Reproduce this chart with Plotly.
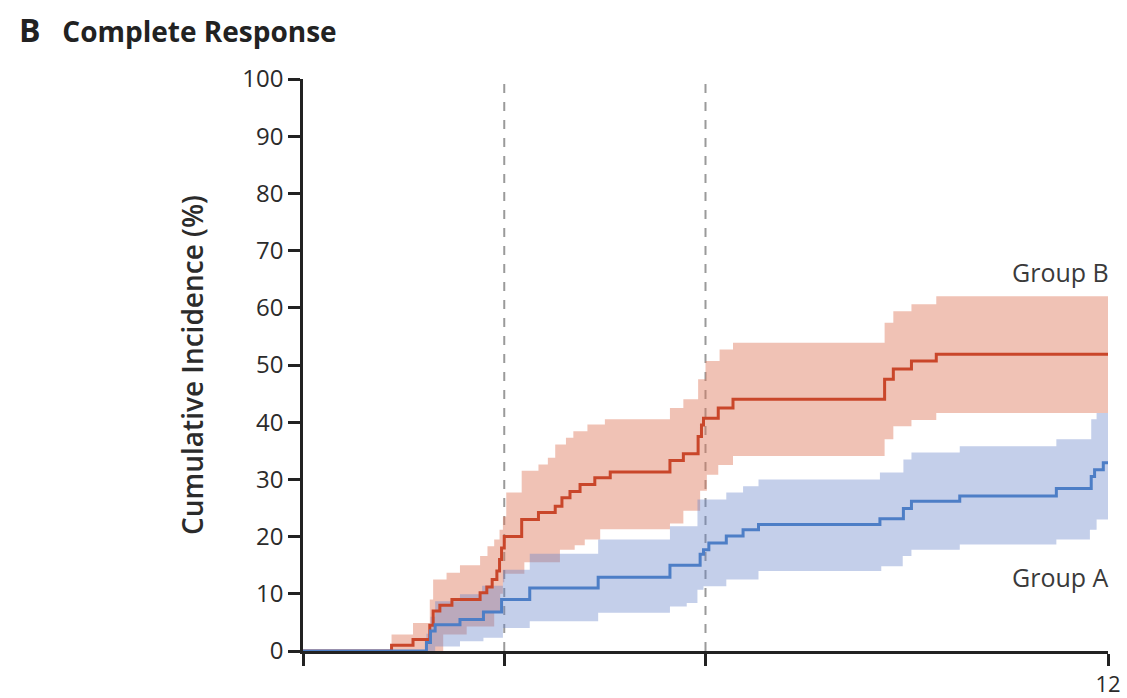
import plotly.graph_objects as go

# ---------------- data (months, cumulative incidence %) ----------------
b_t = [0, 1.32, 1.64, 1.89, 1.94, 2.04, 2.22, 2.64, 2.74, 2.82, 2.89, 2.93, 2.96, 3.00,
       3.26, 3.51, 3.76, 3.86, 3.98, 4.13, 4.35, 4.58, 5.47, 5.67, 5.89, 5.94, 5.97,
       6.19, 6.41, 8.67, 8.80, 9.07, 9.44, 12.0]
b_v = [0, 1.0, 2.0, 4.5, 7.0, 8.0, 9.0, 10.2, 11.2, 12.5, 14.0, 16.0, 18.0, 20.0,
       23.0, 24.2, 25.3, 26.8, 27.9, 29.1, 30.3, 31.3, 33.3, 34.5, 37.5, 39.5, 40.7,
       42.5, 44.0, 47.5, 49.3, 50.7, 51.9, 51.9]

b_up_t = [0, 1.32, 1.64, 1.89, 1.94, 2.14, 2.34, 2.64, 2.75, 2.85, 2.93, 2.98, 3.03,
          3.26, 3.51, 3.65, 3.76, 3.92, 4.03, 4.24, 4.50, 5.47, 5.67, 5.89, 6.00, 6.21,
          6.41, 8.67, 8.80, 9.07, 9.44, 12.0]
b_up_v = [0, 2.9, 4.9, 9.0, 12.5, 13.7, 15.0, 16.6, 18.3, 19.5, 21.2, 23.5, 27.7,
          31.5, 32.6, 33.8, 36.1, 37.3, 38.4, 39.6, 40.5, 42.5, 44.0, 47.5, 50.7, 52.7,
          53.9, 57.4, 59.4, 60.6, 62.0, 62.0]

b_lo_t = [0, 2.09, 2.44, 2.85, 2.94, 2.98, 3.00, 3.30, 3.83, 4.05, 4.20, 4.43, 5.47,
          5.67, 5.92, 6.02, 6.19, 6.41, 8.67, 8.80, 9.07, 9.44, 12.0]
b_lo_v = [0, 2.9, 4.3, 7.0, 10.0, 12.0, 13.5, 15.5, 17.7, 18.5, 19.5, 21.3, 22.3,
          24.5, 28.0, 30.8, 32.5, 34.1, 37.0, 39.3, 40.4, 41.6, 41.6]

a_t = [0, 1.84, 1.90, 1.97, 2.34, 2.69, 2.96, 3.38, 4.40, 5.47, 5.92, 5.97, 6.05,
       6.31, 6.56, 6.79, 8.60, 8.95, 9.07, 9.79, 11.23, 11.75, 11.80, 11.93, 12.0]
a_v = [0, 1.5, 3.5, 4.6, 5.5, 6.8, 9.0, 11.0, 12.9, 15.0, 16.9, 17.7, 18.9,
       20.1, 21.2, 22.1, 23.1, 24.9, 26.2, 27.1, 28.4, 30.5, 31.7, 32.9, 32.9]

a_up_t = [0, 1.84, 1.90, 1.97, 2.34, 2.67, 2.98, 3.38, 4.40, 5.47, 5.88, 6.31, 6.56,
          6.79, 8.60, 8.95, 9.07, 9.79, 11.23, 11.75, 11.83, 12.0]
a_up_v = [0, 3.0, 6.0, 8.7, 9.9, 11.4, 14.2, 17.0, 19.5, 21.8, 26.5, 27.7, 28.8,
          30.0, 31.2, 33.5, 34.7, 35.8, 37.0, 40.5, 41.6, 41.6]

a_lo_t = [0, 1.97, 2.34, 2.69, 2.98, 3.38, 4.40, 5.47, 5.72, 5.88, 5.97, 6.31, 6.79,
          8.62, 8.94, 9.07, 9.79, 11.23, 11.73, 11.83, 12.0]
a_lo_v = [0, 0.8, 1.7, 2.3, 4.0, 5.2, 6.7, 7.8, 8.4, 10.7, 11.3, 12.5, 14.0,
          14.8, 16.6, 17.7, 18.6, 19.5, 21.2, 23.0, 23.0]

y_ticks = [0, 10, 20, 30, 40, 50, 60, 70, 80, 90, 100]
x_ticks = [0, 3, 6, 12]
x_ticktext = ["", "", "", "12"]
landmarks = [3, 6]

RED = "#c9462a"
BLUE = "#4d7ec6"
RED_FILL = "rgba(222,120,90,0.45)"
BLUE_FILL = "rgba(100,130,200,0.38)"
FONT = "Open Sans, Lato, sans-serif"
TXT = "#2b2b2b"

fig = go.Figure()

# confidence bands
fig.add_trace(go.Scatter(x=b_lo_t, y=b_lo_v, mode="lines", line=dict(width=0, shape="hv"),
                         hoverinfo="skip", showlegend=False))
fig.add_trace(go.Scatter(x=b_up_t, y=b_up_v, mode="lines", line=dict(width=0, shape="hv"),
                         fill="tonexty", fillcolor=RED_FILL, hoverinfo="skip", showlegend=False))
fig.add_trace(go.Scatter(x=a_lo_t, y=a_lo_v, mode="lines", line=dict(width=0, shape="hv"),
                         hoverinfo="skip", showlegend=False))
fig.add_trace(go.Scatter(x=a_up_t, y=a_up_v, mode="lines", line=dict(width=0, shape="hv"),
                         fill="tonexty", fillcolor=BLUE_FILL, hoverinfo="skip", showlegend=False))

# dashed landmark lines
for xv in landmarks:
    fig.add_shape(type="line", x0=xv, x1=xv, y0=0, y1=100, xref="x", yref="y",
                  line=dict(color="#9a9a9a", width=2, dash="dash"), layer="below")

# step curves
fig.add_trace(go.Scatter(x=b_t, y=b_v, mode="lines", name="Group B",
                         line=dict(color=RED, width=3, shape="hv"), showlegend=False))
fig.add_trace(go.Scatter(x=a_t, y=a_v, mode="lines", name="Group A",
                         line=dict(color=BLUE, width=3, shape="hv"), showlegend=False))

fig.add_annotation(x=12, y=66.3, xref="x", yref="y", text="Group B", showarrow=False,
                   xanchor="right", yanchor="middle", xshift=3,
                   font=dict(family=FONT, size=25, color="#3a3a3a"))
fig.add_annotation(x=12, y=12.9, xref="x", yref="y", text="Group A", showarrow=False,
                   xanchor="right", yanchor="middle", xshift=3,
                   font=dict(family=FONT, size=25, color="#3a3a3a"))

fig.add_annotation(x=-0.355, y=1.086, xref="paper", yref="paper",
                   text="<b><span style='font-size:32px'>B</span>&nbsp;&nbsp;&nbsp;Complete Response</b>",
                   showarrow=False, xanchor="left", yanchor="middle",
                   font=dict(family=FONT, size=28, color="#222222"))

fig.update_layout(
    width=1127, height=698,
    margin=dict(l=303, r=19, t=79, b=47, autoexpand=False),
    paper_bgcolor="white", plot_bgcolor="white",
    font=dict(family=FONT, color=TXT),
    xaxis=dict(range=[0, 12], tickvals=x_ticks, ticktext=x_ticktext, automargin=False,
               showgrid=False, zeroline=False, showline=True, linecolor="#222222",
               linewidth=2.5, ticks="outside", ticklen=12, tickwidth=2.5,
               tickcolor="#222222", tickfont=dict(size=22, color=TXT),
               layer="below traces"),
    yaxis=dict(range=[0, 100], tickvals=y_ticks, showgrid=False, zeroline=False,
               automargin=False,
               showline=True, linecolor="#222222", linewidth=2.5, ticks="outside",
               ticklen=12, tickwidth=2.5, tickcolor="#222222",
               tickfont=dict(size=24, color=TXT),
               title=dict(text="Cumulative Incidence (%)", standoff=31,
                          font=dict(family=FONT, size=28, color=TXT, weight=600)),
               layer="below traces"),
)

fig.write_html("out.html", config={"displayModeBar": False},
               post_script="document.body.style.margin='0px';document.body.style.overflow='hidden';")
